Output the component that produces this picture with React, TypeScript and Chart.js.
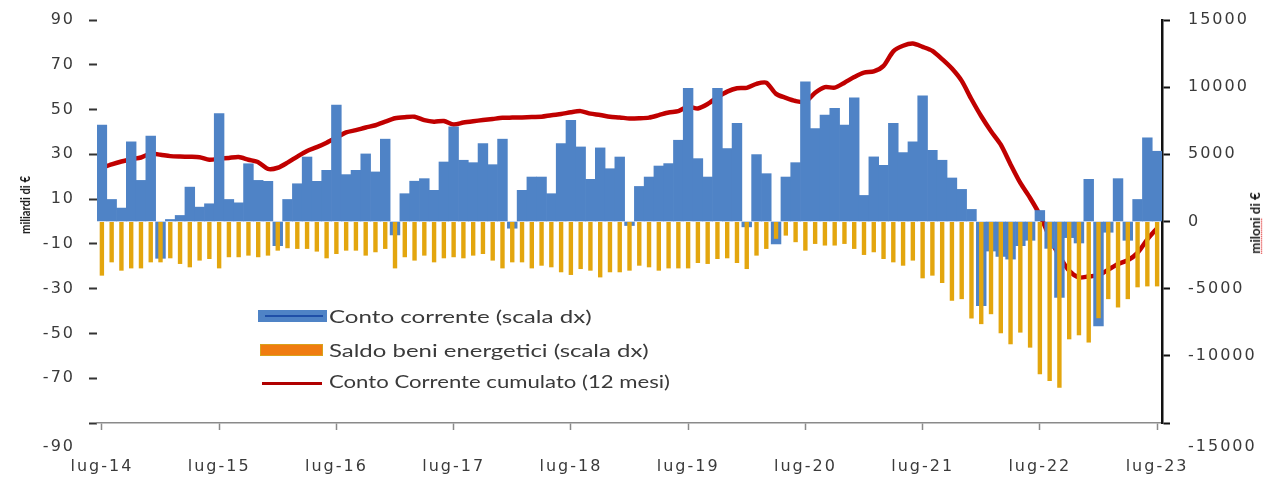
import React, { useEffect, useRef } from 'react';
import { Chart, registerables } from 'chart.js';

Chart.register(...registerables);

// ---- categories (monthly, lug-14 .. lug-23) ----
const MONTH_NAMES = ['gen', 'feb', 'mar', 'apr', 'mag', 'giu', 'lug', 'ago', 'set', 'ott', 'nov', 'dic'];
const START_YEAR = 2014;
const START_MONTH = 6; // lug
const N_MONTHS = 109;
const CATEGORIES: string[] = Array.from({ length: N_MONTHS }, (_, i) => {
  const m = (START_MONTH + i) % 12;
  const y = START_YEAR + Math.floor((START_MONTH + i) / 12);
  return `${MONTH_NAMES[m]}-${String(y).slice(2)}`;
});

// ---- series (milioni di €, scala dx) ----
const CONTO_CORRENTE: number[] = [
  7170, 1640, 1000, 5930, 3060, 6350, -2740, 150, 450, 2560, 1070, 1320,
  8040, 1640, 1390, 4300, 3060, 2990, -1800, 1640, 2810, 4800, 2990, 3810,
  8670, 3490, 3810, 5030, 3690, 6130, -1000, 2070, 3000, 3190, 2320, 4430,
  7050, 4560, 4380, 5800, 4230, 6130, -500, 2320, 3310, 3310, 2070, 5800,
  7540, 5550, 3140, 5480, 3930, 4800, -300, 2610, 3310, 4130, 4310, 6050,
  9910, 4680, 3310, 9910, 5430, 7300, -400, 4980, 3560, -1670, 3310, 4380,
  10400, 6920, 7920, 8420, 7170, 9210, 1940, 4810, 4180, 7300, 5130, 5930,
  9360, 5300, 4560, 3240, 2390, 900, -6270, -2200, -2600, -2800, -1800, -1400,
  820, -2000, -5650, -1200, -1600, 3140, -7770, -800, 3190, -1400, 1640, 6230,
  5230,
];

const SALDO_ENERGETICI: number[] = [
  -4030, -3040, -3660, -3490, -3490, -3040, -3040, -2740, -3160, -3410, -2910, -2790,
  -3490, -2660, -2660, -2540, -2660, -2540, -2170, -1990, -2040, -2040, -2240, -2740,
  -2420, -2170, -2170, -2540, -2290, -2040, -3490, -2660, -2910, -2540, -3040, -2740,
  -2660, -2740, -2540, -2420, -2910, -3490, -3040, -3040, -3490, -3290, -3410, -3780,
  -3980, -3540, -3660, -4160, -3780, -3780, -3660, -3290, -3410, -3660, -3490, -3490,
  -3490, -3090, -3160, -2790, -2740, -3090, -3540, -2540, -2040, -1290, -1050, -1540,
  -2170, -1670, -1790, -1790, -1670, -2040, -2490, -2290, -2790, -3040, -3290, -2910,
  -4230, -4030, -4580, -5900, -5780, -7220, -7640, -6900, -8320, -9140, -8270, -9390,
  -11380, -11880, -12380, -8770, -8470, -9010, -7200, -5780, -6400, -5780, -4900, -4830,
  -4830,
];

// ---- series (miliardi di €, scala sx) ----
const CUMULATO_12M: number[] = [
  24.0, 25.5, 26.8, 27.8, 28.6, 30.3, 29.8, 29.2, 29.0, 28.9, 28.7, 27.6,
  28.0, 28.4, 28.8, 27.6, 26.5, 23.5, 24.0, 26.3, 29.0, 31.5, 33.2, 35.2,
  37.5, 39.8, 40.8, 42.0, 43.0, 44.6, 46.1, 46.6, 46.8, 45.3, 44.6, 44.9,
  43.3, 44.2, 44.8, 45.3, 45.8, 46.3, 46.4, 46.5, 46.7, 46.8, 47.5, 48.0,
  48.8, 49.3, 48.2, 47.6, 46.8, 46.5, 46.0, 46.1, 46.4, 47.5, 48.7, 49.3,
  51.3, 50.5, 52.5, 55.5, 58.0, 59.5, 59.7, 61.5, 62.0, 57.0, 55.2, 53.8,
  53.5, 57.5, 60.0, 59.8, 62.0, 64.5, 66.5, 67.0, 69.5, 76.0, 78.5, 79.5,
  78.0, 76.2, 72.5, 68.3, 62.8, 54.6, 47.0, 40.3, 34.3, 25.5, 17.2, 10.5,
  2.9, -7.0, -15.5, -22.0, -25.0, -24.5, -24.0, -21.5, -19.0, -17.3, -14.0, -8.0,
  -3.0,
];

// ---- axis settings ----
const LEFT_MIN = -90;
const LEFT_MAX = 90;
const LEFT_STEP = 20;
const RIGHT_MIN = -15000;
const RIGHT_MAX = 15000;
const RIGHT_STEP = 5000;
const LABEL_EVERY = 12;

const SERIES_NAMES = [
  'Conto corrente (scala dx)',
  'Saldo beni energetici (scala dx)',
  'Conto Corrente cumulato (12 mesi)',
];

const BLUE = '#4F83C6';
const ORANGE = '#E3A60E';
const RED = '#C00000';
const TEXT = '#3a3a3a';
const TICK_FONT = { family: 'DejaVu Sans', size: 16, lineHeight: 1.5 };

const spacingPlugin = {
  id: 'letterSpacing',
  beforeDraw(chart: any) {
    chart.ctx.letterSpacing = '2px';
  },
  afterDraw(chart: any) {
    chart.ctx.letterSpacing = '0px';
  },
};

const noPadFit = (width: number) => (s: any) => {
  s.width = width;
  s.paddingTop = 0;
  s.paddingBottom = 0;
};

export default function App() {
  const canvasRef = useRef<HTMLCanvasElement | null>(null);

  useEffect(() => {
    if (!canvasRef.current) return;
    const chart = new Chart(canvasRef.current, {
      type: 'bar',
      data: {
        labels: CATEGORIES,
        datasets: [
          {
            type: 'bar',
            label: SERIES_NAMES[0],
            data: CONTO_CORRENTE,
            yAxisID: 'yR',
            backgroundColor: BLUE,
            barPercentage: 1,
            categoryPercentage: 1,
            grouped: false,
            order: 2,
          } as any,
          {
            type: 'bar',
            label: SERIES_NAMES[1],
            data: SALDO_ENERGETICI,
            yAxisID: 'yR',
            backgroundColor: ORANGE,
            barPercentage: 0.45,
            categoryPercentage: 1,
            grouped: false,
            order: 1,
          } as any,
          {
            type: 'line',
            label: SERIES_NAMES[2],
            data: CUMULATO_12M,
            yAxisID: 'yL',
            borderColor: RED,
            backgroundColor: RED,
            borderWidth: 4.5,
            pointRadius: 0,
            tension: 0.25,
            order: 3,
          } as any,
        ],
      },
      options: {
        animation: false,
        responsive: false,
        maintainAspectRatio: false,
        layout: { padding: { top: 20, left: 0, right: 0, bottom: 0 } },
        plugins: {
          legend: { display: false },
          tooltip: { enabled: false },
        },
        scales: {
          x: {
            type: 'category',
            position: 'bottom',
            grid: {
              display: true,
              drawOnChartArea: false,
              offset: false,
              tickLength: 7,
              tickWidth: 1.5,
              tickColor: (ctx: any) => (ctx.index % LABEL_EVERY === 0 ? '#8a8a8a' : 'rgba(0,0,0,0)'),
            },
            border: { display: true, color: '#8a8a8a', width: 1.5 },
            ticks: {
              autoSkip: false,
              maxRotation: 0,
              minRotation: 0,
              padding: 27,
              color: TEXT,
              font: { family: 'DejaVu Sans', size: 16 },
              callback: (_v: any, idx: number) => (idx % LABEL_EVERY === 0 ? CATEGORIES[idx] : ''),
            },
            afterFit: (s: any) => {
              s.height = 55;
            },
          },
          yL: {
            type: 'linear',
            position: 'left',
            min: LEFT_MIN,
            max: LEFT_MAX,
            grid: {
              drawOnChartArea: false,
              tickLength: 8,
              tickWidth: 2,
              tickColor: '#333',
            },
            border: { display: false },
            ticks: {
              autoSkip: false,
              stepSize: LEFT_STEP,
              padding: 14,
              color: TEXT,
              font: TICK_FONT,
              callback: (v: any) => (v === LEFT_MIN ? ['', '', String(v)] : String(v)),
            },
            afterFit: noPadFit(97),
          },
          yR: {
            type: 'linear',
            position: 'right',
            min: RIGHT_MIN,
            max: RIGHT_MAX,
            grid: {
              drawOnChartArea: false,
              tickLength: 8,
              tickWidth: 2,
              tickColor: '#111',
            },
            border: { display: true, color: '#111', width: 2.5 },
            ticks: {
              autoSkip: false,
              stepSize: RIGHT_STEP,
              padding: 18,
              color: TEXT,
              font: TICK_FONT,
              callback: (v: any) => (v === RIGHT_MIN ? ['', '', String(v)] : String(v)),
            },
            afterFit: noPadFit(102),
          },
        },
      } as any,
      plugins: [spacingPlugin],
    });
    return () => chart.destroy();
  }, []);

  const legendText = (top: number, scale: number): React.CSSProperties => ({
    position: 'absolute',
    left: 329,
    top,
    height: 20,
    lineHeight: '20px',
    fontFamily: 'Lato, "Open Sans", sans-serif',
    fontSize: 18,
    color: TEXT,
    whiteSpace: 'nowrap',
    transform: `scaleX(${scale})`,
    transformOrigin: 'left center',
  });

  const axisTitle = (left: number, top: number, sx: number): React.CSSProperties => ({
    position: 'absolute',
    left,
    top,
    fontFamily: 'Lato, "Open Sans", sans-serif',
    fontWeight: 700,
    fontSize: 14,
    lineHeight: '16px',
    color: '#1a1a1a',
    whiteSpace: 'nowrap',
    transform: `translate(-50%, -50%) rotate(-90deg) scaleX(${sx})`,
  });

  return (
    <div style={{ position: 'fixed', left: 0, top: 0, width: 1264, height: 478, background: '#fff', overflow: 'hidden' }}>
      <canvas ref={canvasRef} width={1264} height={478} style={{ display: 'block', width: 1264, height: 478 }} />

      {/* legend */}
      <div style={{ position: 'absolute', left: 258, top: 310, width: 69, height: 12, background: BLUE }}>
        <div style={{ position: 'absolute', left: 7, right: 4, top: 5, height: 2, background: '#1f4fa8' }} />
      </div>
      <div style={legendText(306, 1.34)}>{SERIES_NAMES[0]}</div>

      <div style={{ position: 'absolute', left: 260, top: 344, width: 61, height: 10, background: '#F07C10', border: '1px solid #D9A21C' }} />
      <div style={legendText(340, 1.33)}>{SERIES_NAMES[1]}</div>

      <div style={{ position: 'absolute', left: 262, top: 382, width: 60, height: 3, background: '#B00000' }} />
      <div style={legendText(371, 1.23)}>{SERIES_NAMES[2]}</div>

      {/* axis titles */}
      <div style={axisTitle(25, 205, 0.8)}>miliardi di €</div>
      <div style={axisTitle(1255, 223, 0.95)}>
        <span style={{ textDecoration: 'underline dotted #e03030' }}>miloni</span> di €
      </div>
    </div>
  );
}
